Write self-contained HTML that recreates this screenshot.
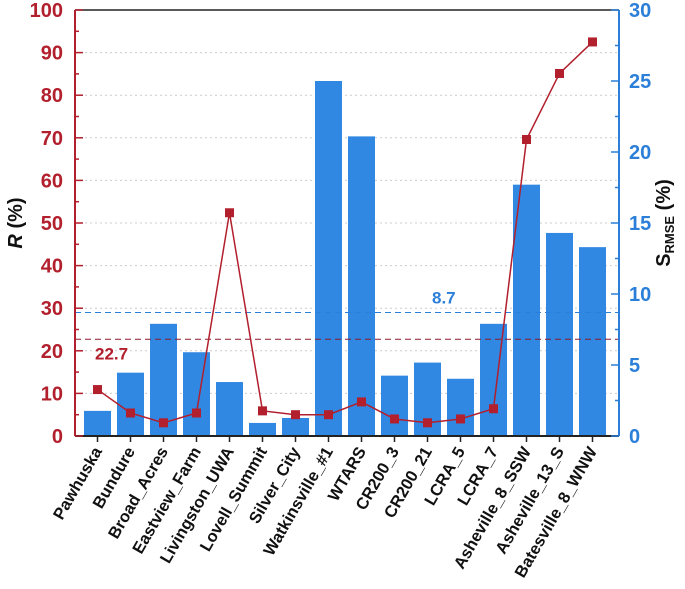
<!DOCTYPE html>
<html><head><meta charset="utf-8"><style>
body{margin:0;background:#fff;width:685px;height:584px;overflow:hidden}
text{font-family:"Liberation Sans",Arial,sans-serif;font-weight:bold}
</style></head><body>
<svg id="chart" width="685" height="584" xmlns="http://www.w3.org/2000/svg"></svg>
<script>
const categories=["Pawhuska","Bundure","Broad_Acres","Eastview_Farm","Livingston_UWA","Lovell_Summit","Silver_City","Watkinsville_#1","WTARS","CR200_3","CR200_21","LCRA_5","LCRA_7","Asheville_8_SSW","Asheville_13_S","Batesville_8_WNW"];
const srmseValues=[1.77,4.46,7.9,5.9,3.8,0.92,1.27,25.0,21.1,4.25,5.17,4.03,7.9,17.7,14.3,13.3];
const rValues=[10.9,5.4,3.1,5.4,52.4,5.9,5.0,5.0,8.0,4.0,3.1,4.0,6.4,69.6,85.1,92.5];
const leftTicks=[0,10,20,30,40,50,60,70,80,90,100];
const rightTicks=[0,5,10,15,20,25,30];
const rMean=22.7, sMean=8.7;

const svg=document.getElementById('chart');
const NS='http://www.w3.org/2000/svg';
const X0=75,X1=619,Y0=436,Y1=10;
const RED='#b21f2d',BLUE='#2b7fd9',BAR='#3088e2';
const yL=v=>Y0-(Y0-Y1)*v/100;
const yR=v=>Y0-(Y0-Y1)*v/30;
const xC=i=>97.5+33*i;
function mk(tag,attrs,name,txt){const e=document.createElementNS(NS,tag);for(const k in attrs)e.setAttribute(k,attrs[k]);


if(txt!==undefined)e.textContent=txt;svg.appendChild(e);return e;}

leftTicks.forEach(t=>{if(t>0&&t<100)mk('line',{x1:X0,x2:X1,y1:yL(t),y2:yL(t),stroke:'#ccc','stroke-dasharray':'2,3','stroke-width':1},'gridline');});
srmseValues.forEach((v,i)=>{mk('rect',{x:xC(i)-13.5,y:yR(v),width:27,height:Y0-yR(v),fill:BAR},'bar-'+categories[i].toLowerCase());});
mk('line',{x1:X0,x2:X1,y1:yR(sMean),y2:yR(sMean),stroke:BLUE,'stroke-dasharray':'6,4','stroke-width':1},'srmse-mean-line');
mk('line',{x1:X0,x2:X1,y1:yL(rMean),y2:yL(rMean),stroke:'#8b1a2a','stroke-dasharray':'6,4','stroke-width':1},'r-mean-line');
mk('text',{x:432,y:yR(sMean)-9,fill:BLUE,'font-size':17,'font-family':'Liberation Serif,serif'},'srmse-mean-label',String(sMean));
mk('text',{x:95,y:yL(rMean)+20,fill:RED,'font-size':17},'r-mean-label',String(rMean));
mk('polyline',{points:rValues.map((v,i)=>xC(i)+','+yL(v)).join(' '),fill:'none',stroke:RED,'stroke-width':1.5},'r-line');
rValues.forEach((v,i)=>mk('rect',{x:xC(i)-4.5,y:yL(v)-4.5,width:9,height:9,fill:RED},'r-marker'));
mk('line',{x1:X0,x2:X1,y1:Y1,y2:Y1,stroke:'#222','stroke-width':1.5},'top-border');
mk('line',{x1:X0,x2:X1,y1:Y0,y2:Y0,stroke:'#222','stroke-width':2},'x-axis');
mk('line',{x1:X0,x2:X0,y1:Y1,y2:Y0,stroke:RED,'stroke-width':2},'left-axis');
mk('line',{x1:X1,x2:X1,y1:Y1,y2:Y0,stroke:BLUE,'stroke-width':2},'right-axis');
leftTicks.forEach(t=>{const y=yL(t);mk('line',{x1:X0,x2:X0+8,y1:y,y2:y,stroke:RED,'stroke-width':1.5},'left-tick');
mk('text',{x:X0-12,y:y+7,'text-anchor':'end',fill:RED,'font-size':20},'left-tick-label',String(t));
if(t<100)mk('line',{x1:X0,x2:X0+4,y1:yL(t+5),y2:yL(t+5),stroke:RED,'stroke-width':1.5},'left-minor-tick');});
rightTicks.forEach(t=>{const y=yR(t);mk('line',{x1:X1-8,x2:X1,y1:y,y2:y,stroke:BLUE,'stroke-width':1.5},'right-tick');
mk('text',{x:X1+10,y:y+7,fill:BLUE,'font-size':20},'right-tick-label',String(t));
if(t<30)mk('line',{x1:X1-4,x2:X1,y1:yR(t+2.5),y2:yR(t+2.5),stroke:BLUE,'stroke-width':1.5},'right-minor-tick');});
categories.forEach((c,i)=>{const x=xC(i);mk('line',{x1:x,x2:x,y1:Y0,y2:Y0+6,stroke:'#222','stroke-width':1.5},'x-tick');
mk('text',{x:x+5,y:Y0+15,'text-anchor':'end',fill:'#111','font-size':16.5,transform:`rotate(-60 ${x+5} ${Y0+15})`},'x-label',c);});
const lt=mk('text',{x:22,y:223,'text-anchor':'middle',fill:'#111','font-size':20,transform:'rotate(-90 22 223)'},'left-axis-title');
lt.innerHTML='<tspan font-style="italic">R</tspan> (%)';
const rt=mk('text',{x:670,y:223,'text-anchor':'middle',fill:'#111','font-size':20,transform:'rotate(-90 670 223)'},'right-axis-title');
rt.innerHTML='S<tspan font-size="13" dy="4">RMSE</tspan><tspan dy="-4"> (%)</tspan>';
</script>
</body></html>
